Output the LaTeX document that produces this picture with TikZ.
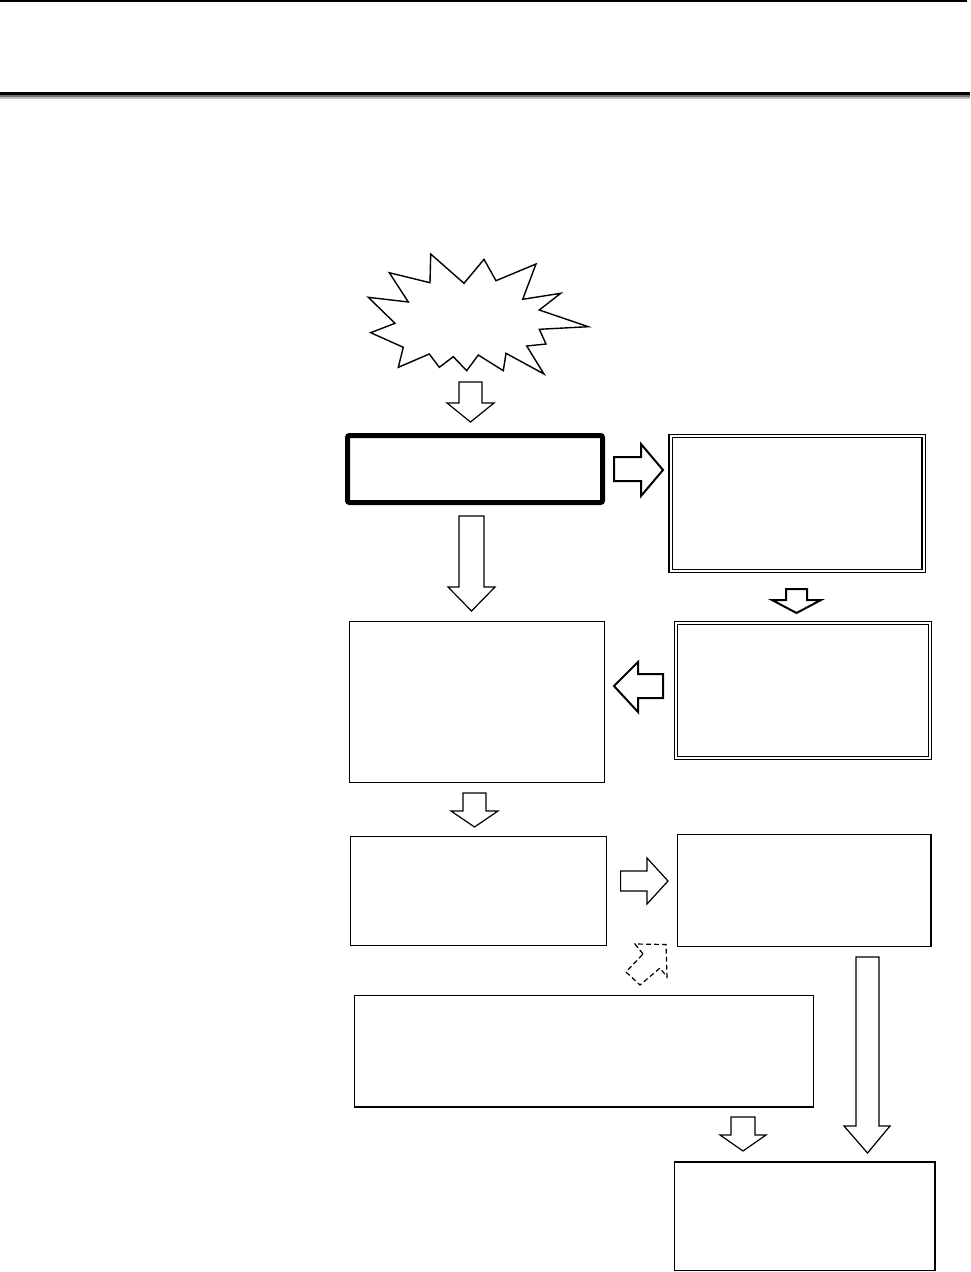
\documentclass[tikz,border=0pt]{standalone}
\begin{document}
\begin{tikzpicture}[x=1pt,y=-1pt,
  box/.style={draw=black, line width=1.3pt, inner sep=0pt, outer sep=0pt, anchor=north west, fill=white},
  thickbox/.style={box, line width=5pt, rounded corners=2pt},
  dblbox/.style={box, line width=1.3pt, double=white, double distance=2pt},
  blk/.style={draw=black, line width=1.2pt, line join=miter, fill=white},
  blkthick/.style={blk, line width=2pt},
  blkdash/.style={blk, dashed, dash pattern=on 5pt off 3pt}]
\useasboundingbox (0,0) rectangle (970,1272);
% header rules
\draw[line width=1.2pt] (0,1) -- (967,1);
\draw[line width=2.6pt,black] (0,93.5) -- (970,93.5);
\draw[line width=2pt,black!55] (0,96) -- (970,96);
\draw[line width=2pt,black!25] (0,98) -- (970,98);
% starburst
\draw[line width=1.4pt, line join=miter, fill=white]
 (430.7,254) -- (464,283.3) -- (484,259.3) -- (496,280.7) -- (536,264) -- (522.7,299.3)
 -- (560.7,293.3) -- (539.3,310) -- (588.3,326.7) -- (539.3,329.3) -- (546,344)
 -- (526.7,346) -- (544,374) -- (506,353.3) -- (503.3,370.7) -- (478.3,355)
 -- (466.7,370.7) -- (453.3,356.7) -- (439.3,367.3) -- (429.3,354) -- (398.3,367.3)
 -- (403.3,347.3) -- (370.7,332.7) -- (395,323.3) -- (368.3,297.3) -- (408.3,302)
 -- (389.3,272.7) -- (430,282.7) -- cycle;
% boxes
\node[thickbox, minimum width=255pt, minimum height=67pt] (A) at (347.5,435.5) {};
\node[dblbox, minimum width=253pt, minimum height=135pt] (B) at (670.5,436) {};
\node[dblbox, minimum width=254pt, minimum height=135pt] (C) at (676,623) {};
\node[box, minimum width=255pt, minimum height=161pt] (D) at (349.5,621.5) {};
\node[box, minimum width=256pt, minimum height=109pt] (E) at (350.5,836.5) {};
\node[box, minimum width=253.5pt, minimum height=112pt] (F) at (677.5,834.5) {};
\node[box, minimum width=459pt, minimum height=111.5pt] (G) at (354.5,995.5) {};
\node[box, minimum width=260.5pt, minimum height=108.5pt] (H) at (674.5,1162) {};
% block arrows
\draw[blk] (459,382) -- (482,382) -- (482,403) -- (494,403) -- (470.5,422) -- (447,403) -- (459,403) -- cycle;
\draw[blk] (459,516) -- (484,516) -- (484,587) -- (495,587) -- (471.5,611) -- (448,587) -- (459,587) -- cycle;
\draw[blkthick] (614,457) -- (641,457) -- (641,444) -- (663,470) -- (641,496) -- (641,481) -- (614,481) -- cycle;
\draw[blkthick] (786,589) -- (807,589) -- (807,600) -- (821,600) -- (796.5,613) -- (772,600) -- (786,600) -- cycle;
\draw[blkthick] (663,674) -- (638,674) -- (638,662) -- (614,686) -- (638,712) -- (638,698) -- (663,698) -- cycle;
\draw[blk] (463,793) -- (486,793) -- (486,811) -- (498,811) -- (474.5,827) -- (451,811) -- (463,811) -- cycle;
\draw[blk] (620.6,871) -- (647,871) -- (647,858) -- (668,881) -- (647,904) -- (647,891) -- (620.6,891) -- cycle;
\draw[blkdash] (643,954) -- (635,944) -- (666,944.5) -- (667,977) -- (660,968) -- (640,985) -- (626,972) -- cycle;
\draw[blk] (856,957) -- (879,957) -- (879,1126) -- (890,1126) -- (867.5,1153) -- (844,1126) -- (856,1126) -- cycle;
\draw[blk] (731,1117) -- (755,1117) -- (755,1135) -- (766,1135) -- (743,1151) -- (720,1135) -- (731,1135) -- cycle;
\end{tikzpicture}
\end{document}
